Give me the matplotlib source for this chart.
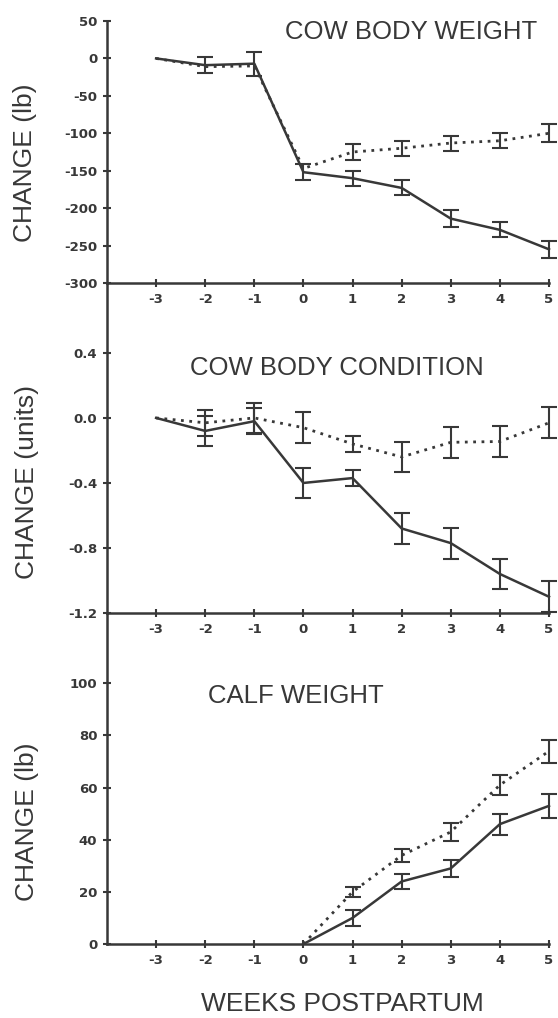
import numpy as np
import matplotlib
matplotlib.use("Agg")
import matplotlib.pyplot as plt

# weeks postpartum
weeks = [-3, -2, -1, 0, 1, 2, 3, 4, 5]
calf_weeks = [0, 1, 2, 3, 4, 5]

# cow body weight change (lb)
bw_solid = [0, -9, -7, -152, -160, -173, -214, -229, -255]
bw_solid_err = [None, 11, 16, 11, 10, 10, 11, 10, 11]
bw_dot = [0, -11, -10, -147, -125, -120, -113, -110, -100]
bw_dot_err = [None, None, None, None, 11, 10, 10, 10, 12]

# cow body condition change (units)
bc_solid = [0, -0.08, -0.02, -0.40, -0.37, -0.68, -0.77, -0.96, -1.10]
bc_solid_err = [None, 0.09, 0.08, 0.09, 0.05, 0.095, 0.095, 0.095, 0.095]
bc_dot = [0, -0.03, 0.0, -0.06, -0.16, -0.24, -0.15, -0.145, -0.03]
bc_dot_err = [None, 0.08, 0.09, 0.095, 0.05, 0.09, 0.095, 0.095, 0.095]

# calf weight change (lb)
cw_solid = [0, 10, 24, 29, 46, 53]
cw_solid_err = [None, 3.2, 3.0, 3.4, 4.0, 4.6]
cw_dot = [0, 20, 34, 43, 61, 74]
cw_dot_err = [None, 2.0, 2.6, 3.4, 3.8, 4.4]

ink = '#383838'
W, H = 558, 1018


def px_axes(fig, left, right, top, bottom):
    return fig.add_axes([left / W, 1 - bottom / H, (right - left) / W, (bottom - top) / H])


def draw_series(ax, x, y, err, ls, lw):
    ax.plot(x, y, color=ink, linestyle=ls, lw=lw, clip_on=False, zorder=3)
    xe = [a for a, e in zip(x, err) if e is not None]
    ye = [b for b, e in zip(y, err) if e is not None]
    ee = [e for e in err if e is not None]
    ax.errorbar(xe, ye, yerr=ee, fmt='none', ecolor=ink, elinewidth=1.5,
                capsize=5.5, capthick=1.5, clip_on=False, zorder=3)


def style_axes(ax, ylim, yticks, ylabels):
    ax.set_xlim(-4, 5)
    ax.set_ylim(*ylim)
    ax.set_yticks(yticks)
    ax.set_yticklabels(ylabels)
    ax.set_xticks(weeks)
    ax.set_xticklabels([str(w) for w in weeks])
    for s in ['top', 'right']:
        ax.spines[s].set_visible(False)
    for s in ['left', 'bottom']:
        ax.spines[s].set_color(ink)
        ax.spines[s].set_linewidth(1.8)
    ax.tick_params(direction='inout', length=6, width=1.5, color=ink,
                   labelcolor=ink, labelsize=9.5, pad=4)
    for lab in ax.get_xticklabels() + ax.get_yticklabels():
        lab.set_fontweight('bold')
    ax.patch.set_alpha(0)


fig = plt.figure(figsize=(W / 100, H / 100), dpi=100, facecolor='white')

solid = '-'
dotted = (0, (1, 2))

# panel 1
ax1 = px_axes(fig, 107, 549, 21, 283)
draw_series(ax1, weeks, bw_dot, bw_dot_err, dotted, 2.0)
draw_series(ax1, weeks, bw_solid, bw_solid_err, solid, 1.8)
style_axes(ax1, (-300, 50), range(-300, 51, 50), [str(v) for v in range(-300, 51, 50)])
ax1.text(-0.37, 35, 'COW BODY WEIGHT', fontsize=18.5, color=ink,
         family='Liberation Sans', ha='left', va='center')

# panel 2
ax2 = px_axes(fig, 107, 549, 283, 613)
draw_series(ax2, weeks, bc_dot, bc_dot_err, dotted, 2.0)
draw_series(ax2, weeks, bc_solid, bc_solid_err, solid, 1.8)
ticks2 = [-1.2, -0.8, -0.4, 0.0, 0.4]
style_axes(ax2, (-1.2, 0.83), ticks2, ['%.1f' % t for t in ticks2])
ax2.text(-2.31, 0.31, 'COW BODY CONDITION', fontsize=18.5, color=ink,
         family='Liberation Sans', ha='left', va='center')

# panel 3
ax3 = px_axes(fig, 107, 549, 613, 944)
draw_series(ax3, calf_weeks, cw_dot, cw_dot_err, dotted, 2.0)
draw_series(ax3, calf_weeks, cw_solid, cw_solid_err, solid, 1.8)
style_axes(ax3, (0, 127), range(0, 101, 20), [str(v) for v in range(0, 101, 20)])
ax3.text(-1.94, 95, 'CALF WEIGHT', fontsize=18.5, color=ink,
         family='Liberation Sans', ha='left', va='center')

# y labels and x label
for txt, xc, yc in [('CHANGE (lb)', 25, 163), ('CHANGE (units)', 27, 482),
                    ('CHANGE (lb)', 27, 822)]:
    fig.text(xc / W, 1 - yc / H, txt, rotation=90, fontsize=19, color=ink,
             family='Liberation Sans', ha='center', va='center')
fig.text(342 / W, 1 - 1004 / H, 'WEEKS POSTPARTUM', fontsize=19, color=ink,
         family='Liberation Sans', ha='center', va='center')

fig.savefig('out.png', dpi=100, facecolor='white')
